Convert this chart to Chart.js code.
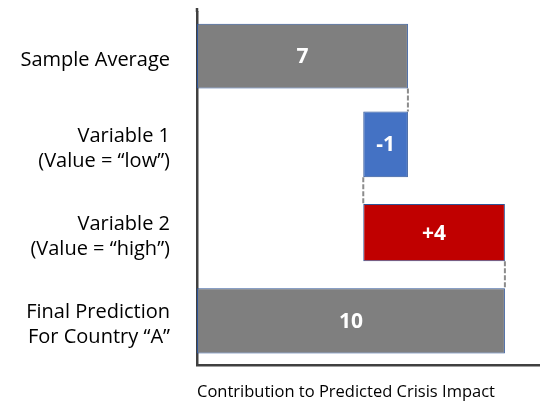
<!DOCTYPE html>
<html>
<head>
<meta charset="utf-8">
<script src="https://cdn.jsdelivr.net/npm/chart.js@4"></script>
<style>
    html, body { margin: 0; padding: 0; background: #fff; }
    #wrap { width: 540px; height: 404px; }
</style>
</head>
<body>
<div id="wrap"><canvas id="waterfall"></canvas></div>
<script>
// Waterfall data (bar extents, axis has no ticks)
const categories = [
    'Sample Average',
    ['Variable 1', '(Value = \u201clow\u201d)'],
    ['Variable 2', '(Value = \u201chigh\u201d)'],
    ['Final Prediction', 'For Country \u201cA\u201d']
];
const barStarts = [0, 6.85, 5.4, 0];
const barEnds = [6.85, 5.4, 10, 10];
const barLabels = ['7', '-1', '+4', '10'];
const axisTitle = 'Contribution to Predicted Crisis Impact';

// styling per bar
const barColors = ['#7F7F7F', '#4472C4', '#C00000', '#7F7F7F'];
const barThick = [0.735, 0.745, 0.65, 0.74];

const FONT = '"Open Sans", "Noto Sans", sans-serif';

// each bar sits in its own dataset so the red one can be a bit thinner
const datasets = categories.map((c, i) => ({
    data: categories.map((_, j) => (j === i ? [barStarts[i], barEnds[i]] : null)),
    backgroundColor: barColors[i],
    borderColor: '#2F5597',
    borderWidth: 1,
    borderSkipped: false,
    barPercentage: barThick[i],
    categoryPercentage: 1
}));

function barAt(chart, i) {
    return chart.getDatasetMeta(i).data[i];
}

// white value labels in the middle of each bar
const barLabelPlugin = {
    id: 'barLabels',
    afterDatasetsDraw(chart) {
        const ctx = chart.ctx;
        ctx.save();
        ctx.fillStyle = '#fff';
        ctx.font = 'bold 21px ' + FONT;
        ctx.textAlign = 'center';
        ctx.textBaseline = 'middle';
        barLabels.forEach((txt, i) => {
            const bar = barAt(chart, i);
            ctx.fillText(txt, (bar.x + bar.base) / 2, bar.y + 1);
        });
        ctx.restore();
    }
};

// dashed connectors between consecutive bars
const connectorPlugin = {
    id: 'connectors',
    afterDatasetsDraw(chart) {
        const ctx = chart.ctx;
        const xScale = chart.scales.x;
        ctx.save();
        ctx.strokeStyle = '#8C8C8C';
        ctx.lineWidth = 2;
        ctx.setLineDash([5, 2]);
        for (let i = 0; i < categories.length - 1; i++) {
            const a = barAt(chart, i), b = barAt(chart, i + 1);
            const x = xScale.getPixelForValue(barEnds[i]);
            ctx.beginPath();
            ctx.moveTo(x, a.y + a.height / 2);
            ctx.lineTo(x, b.y - b.height / 2);
            ctx.stroke();
        }
        // axis line pokes a little above the plot
        const area = chart.chartArea;
        ctx.setLineDash([]);
        ctx.strokeStyle = '#404040';
        ctx.lineWidth = 2.5;
        ctx.beginPath();
        ctx.moveTo(area.left, area.top - 4);
        ctx.lineTo(area.left, area.top);
        ctx.stroke();
        ctx.restore();
    }
};

new Chart(document.getElementById('waterfall'), {
    type: 'bar',
    data: { labels: categories, datasets: datasets },
    options: {
        indexAxis: 'y',
        responsive: true,
        maintainAspectRatio: false,
        animation: false,
        grouped: false,
        layout: { padding: { top: 12, right: 0, bottom: 0, left: 0 } },
        plugins: {
            legend: { display: false },
            tooltip: { enabled: false }
        },
        scales: {
            x: {
                min: 0,
                max: 11.14,
                grid: { display: false },
                border: { display: true, color: '#404040', width: 2.5 },
                ticks: { display: false },
                title: {
                    display: true,
                    text: axisTitle,
                    align: 'start',
                    color: '#000',
                    font: { family: FONT, size: 16.5 },
                    padding: { top: 0, bottom: 2 }
                },
                afterFit(scale) {
                    scale.height = 39;
                    scale.paddingLeft = 0;
                    scale.paddingRight = 0;
                }
            },
            y: {
                // tick length (not padding) gives the gap between labels and axis
                grid: { display: false, drawTicks: true, tickLength: 27 },
                border: { display: true, color: '#404040', width: 2.5 },
                ticks: {
                    color: '#000',
                    padding: 0,
                    labelOffset: 4,
                    font: { family: FONT, size: 20, lineHeight: 1.25 }
                },
                afterFit(scale) {
                    scale.width = 197;
                    scale.paddingTop = 0;
                    scale.paddingBottom = 0;
                }
            }
        }
    },
    plugins: [barLabelPlugin, connectorPlugin]
});
</script>
</body>
</html>
